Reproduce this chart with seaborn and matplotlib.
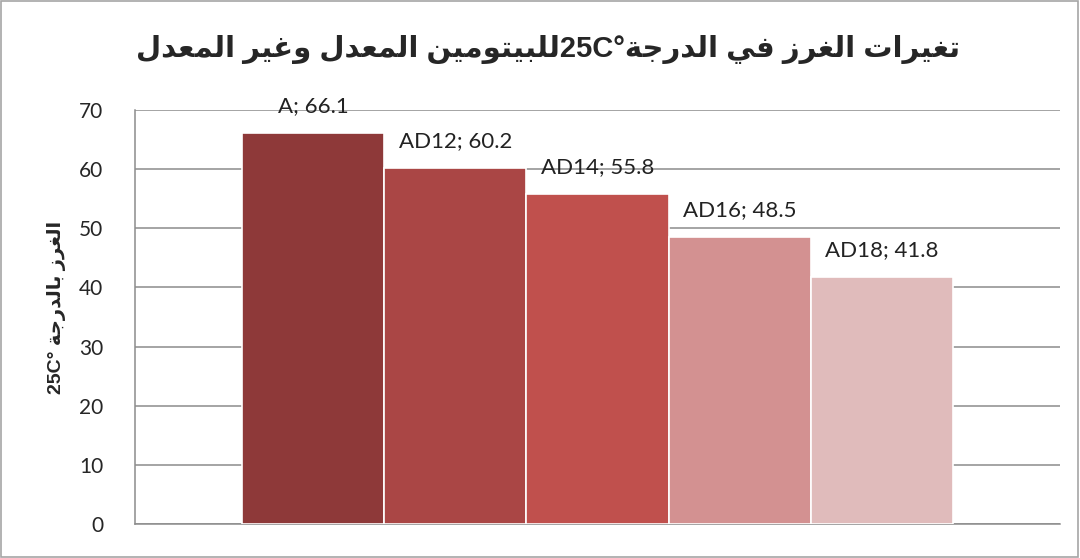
import matplotlib
matplotlib.use("Agg")
import matplotlib.pyplot as plt
import seaborn as sns
import pandas as pd
from matplotlib.patches import Rectangle

# data
samples = ['A', 'AD12', 'AD14', 'AD16', 'AD18']
penetration = [66.1, 60.2, 55.8, 48.5, 41.8]
bar_colors = ['#8E3939', '#AA4645', '#C0504D', '#D39191', '#E0BBBB']
y_ticks = [0, 10, 20, 30, 40, 50, 60, 70]

# matplotlib has no arabic shaping: map letters to presentation forms
# (isolated, final, initial, medial); None = does not join to the next letter
FORMS = {
    'ا': ('\uFE8D', '\uFE8E', None, None),
    'ب': ('\uFE8F', '\uFE90', '\uFE91', '\uFE92'),
    'ة': ('\uFE93', '\uFE94', None, None),
    'ت': ('\uFE95', '\uFE96', '\uFE97', '\uFE98'),
    'ج': ('\uFE9D', '\uFE9E', '\uFE9F', '\uFEA0'),
    'د': ('\uFEA9', '\uFEAA', None, None),
    'ر': ('\uFEAD', '\uFEAE', None, None),
    'ز': ('\uFEAF', '\uFEB0', None, None),
    'ع': ('\uFEC9', '\uFECA', '\uFECB', '\uFECC'),
    'غ': ('\uFECD', '\uFECE', '\uFECF', '\uFED0'),
    'ف': ('\uFED1', '\uFED2', '\uFED3', '\uFED4'),
    'ل': ('\uFEDD', '\uFEDE', '\uFEDF', '\uFEE0'),
    'م': ('\uFEE1', '\uFEE2', '\uFEE3', '\uFEE4'),
    'ن': ('\uFEE5', '\uFEE6', '\uFEE7', '\uFEE8'),
    'و': ('\uFEED', '\uFEEE', None, None),
    'ي': ('\uFEF1', '\uFEF2', '\uFEF3', '\uFEF4'),
}


def shape(word):
    out = []
    for i, ch in enumerate(word):
        if ch not in FORMS:
            out.append(ch)
            continue
        prev = word[i - 1] if i > 0 else ''
        nxt = word[i + 1] if i + 1 < len(word) else ''
        jp = prev in FORMS and FORMS[prev][2] is not None
        jn = nxt in FORMS and FORMS[ch][2] is not None
        iso, fin, ini, med = FORMS[ch]
        if jp and jn:
            out.append(med)
        elif jp:
            out.append(fin)
        elif jn:
            out.append(ini)
        else:
            out.append(iso)
    return ''.join(out)


def rtl(parts):
    # parts in logical order; arabic pieces get shaped and reversed
    res = []
    for p in reversed(parts):
        if any(c in FORMS for c in p):
            res.append(shape(p)[::-1])
        else:
            res.append(p)
    return ''.join(res)


title = rtl(['تغيرات', ' ', 'الغرز', ' ', 'في', ' ', 'الدرجة', '25C°',
             'للبيتومين', ' ', 'المعدل', ' ', 'وغير', ' ', 'المعدل'])
ylabel = rtl(['الغرز', ' ', 'بالدرجة', ' ', '25C°'])

df = pd.DataFrame({'sample': samples, 'value': penetration})

sns.set_style("white")
plt.rcParams['font.family'] = ['Lato', 'DejaVu Sans']

fig = plt.figure(figsize=(10.8, 5.58), dpi=100)
ax = fig.add_axes([135 / 1080, 1 - 524 / 558, 925 / 1080, 414 / 558])

sns.barplot(data=df, x='sample', y='value', hue='sample', palette=bar_colors,
            width=1.0, legend=False, ax=ax, edgecolor='white', linewidth=1.2,
            saturation=1, zorder=3)

for i, (s, v) in enumerate(zip(samples, penetration)):
    ax.annotate(f'{s}; {v}', (i, v), xytext=(0, 12), textcoords='offset points',
                ha='center', va='bottom', fontsize=16, color='#222222', zorder=4)

ax.set_xlim(-1.25, 5.25)
ax.set_ylim(0, 70)
ax.set_yticks(y_ticks)
ax.tick_params(axis='y', labelsize=15, labelcolor='#262626', length=0, pad=23)
ax.set_xticks([])
ax.set_xlabel('')
ax.set_ylabel('')
ax.yaxis.grid(True, color='#8C8C8C', linewidth=1.1, zorder=0)
ax.set_axisbelow(True)
for side in ['top', 'right']:
    ax.spines[side].set_visible(False)
for side in ['left', 'bottom']:
    ax.spines[side].set_color('#8C8C8C')
    ax.spines[side].set_linewidth(1.1)

fig.text(548 / 1080, 1 - 50 / 558, title, ha='center', va='center',
         fontsize=21, fontweight='bold', family=['Liberation Sans', 'DejaVu Sans'])
fig.text(57 / 1080, 1 - 307 / 558, ylabel, ha='center', va='center', rotation=90,
         fontsize=14, fontweight='bold', family=['Liberation Sans', 'DejaVu Sans'])

fig.patches.append(Rectangle((0.001, 0.002), 0.997, 0.996, transform=fig.transFigure,
                             fill=False, edgecolor='#A6A6A6', linewidth=1.2))

fig.savefig('out.png', dpi=100)
